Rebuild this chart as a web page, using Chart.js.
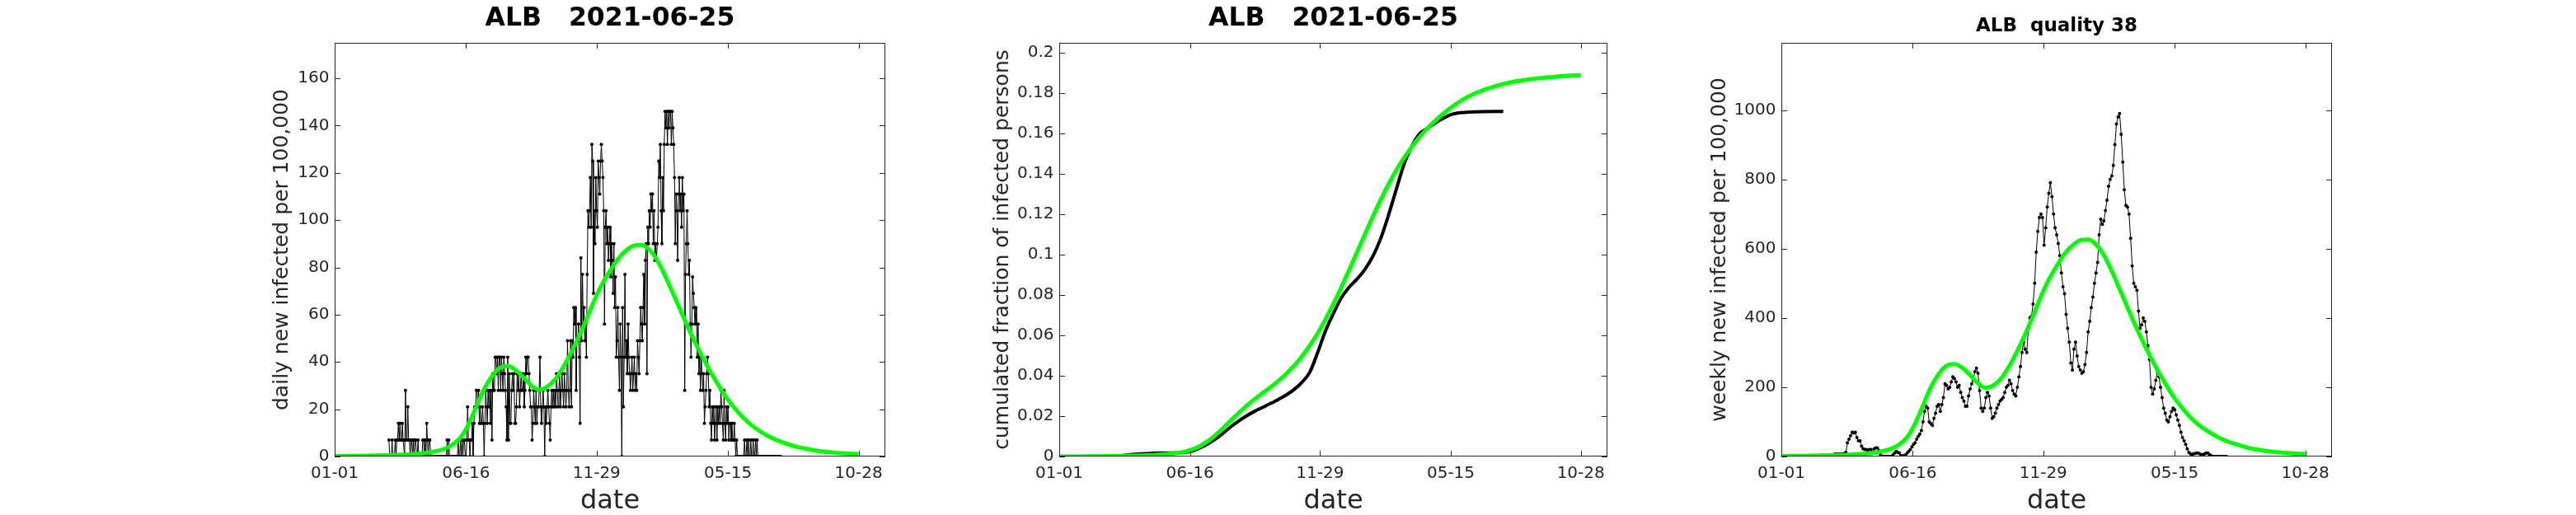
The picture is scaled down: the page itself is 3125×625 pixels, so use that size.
<!DOCTYPE html>
<html><head><meta charset="utf-8">
<script src="https://cdn.jsdelivr.net/npm/chart.js@4.4.1/dist/chart.umd.min.js"></script>
<style>
html,body{margin:0;padding:0;background:#fff;width:3125px;height:625px;overflow:hidden;}
.p{position:absolute;top:0;height:625px;}
canvas{display:block;}
</style></head><body>
<div class="p" style="left:296px;width:888px"><canvas id="c1" width="888" height="625"></canvas></div>
<div class="p" style="left:1175px;width:885px"><canvas id="c2" width="885" height="625"></canvas></div>
<div class="p" style="left:2051px;width:888px"><canvas id="c3" width="888" height="625"></canvas></div>
<script>
// ---------- data ----------
const xTickDays   = [0, 167, 333, 500, 666];
const xTickLabels = ['01-01', '06-16', '11-29', '05-15', '10-28'];

const y1Ticks = [0, 20, 40, 60, 80, 100, 120, 140, 160];
const y1Labels = ['0','20','40','60','80','100','120','140','160'];
const y2Ticks = [0, 0.02, 0.04, 0.06, 0.08, 0.1, 0.12, 0.14, 0.16, 0.18, 0.2];
const y2Labels = ['0','0.02','0.04','0.06','0.08','0.1','0.12','0.14','0.16','0.18','0.2'];
const y3Ticks = [0, 200, 400, 600, 800, 1000];
const y3Labels = ['0','200','400','600','800','1000'];

// daily new infected per 100,000 (one value per day, first day = dailyStartDay)
const dailyStartDay = 69;
const dailyVals = [
 7,0,0,0,7,0,0,0,7,0,
 7,7,14,7,14,7,7,14,7,7,
 0,28,7,7,21,7,7,0,7,7,
 0,7,0,7,7,0,0,7,0,0,
 0,0,0,7,7,0,7,0,14,7,
 0,7,7,0,0,0,0,0,0,0,
 0,0,0,0,0,0,0,0,0,0,
 0,0,0,0,7,0,7,0,0,0,
 0,0,0,0,0,0,0,0,7,0,
 0,7,0,7,0,7,7,0,0,7,
 21,7,7,0,7,7,14,0,14,21,
 21,28,28,21,28,14,21,14,14,21,
 14,0,14,28,21,14,28,21,28,14,
 28,7,35,28,28,42,42,35,42,28,
 42,42,28,42,35,28,42,35,28,21,
 7,42,7,35,14,14,28,35,28,35,
 14,14,21,35,28,35,21,28,35,28,
 28,35,21,28,42,35,42,42,35,28,
 21,21,7,14,28,21,14,28,14,21,
 21,28,42,21,14,21,28,21,0,21,
 14,21,28,21,14,7,21,28,21,28,
 21,28,21,35,28,21,28,35,21,28,
 35,28,21,35,28,21,28,49,28,21,
 28,49,21,49,42,63,56,63,28,49,
 49,56,42,14,84,49,77,56,63,49,
 56,42,77,104,97,104,118,97,132,125,
 69,104,90,118,104,97,125,118,111,125,
 132,125,118,104,56,97,104,90,97,83,
 90,97,76,90,83,69,90,63,76,42,
 49,63,42,28,56,42,0,63,21,42,
 77,42,49,35,56,42,35,28,35,42,
 28,35,42,28,35,28,49,42,35,49,
 63,56,49,63,77,56,83,90,35,97,
 90,104,97,111,104,111,90,104,83,90,
 83,90,97,125,118,132,104,90,118,104,
 132,146,139,146,132,146,139,146,146,132,
 146,139,132,118,90,111,104,83,111,118,
 104,111,97,118,104,111,28,77,90,104,
 90,77,83,56,42,56,76,69,63,56,
 63,56,42,56,35,42,28,42,35,28,
 35,14,21,28,35,42,35,21,28,14,
 7,21,14,21,7,14,21,7,21,14,
 21,14,28,21,14,7,28,14,7,21,
 14,21,7,14,14,7,14,7,7,14,
 7,0,7,0,0,0,0,0,0,0,
 0,0,7,0,0,7,0,7,0,0,
 7,0,0,7,0,0,7,0,7,0,
 0,0,0,0,0,0,0,0,0,0,
 0,0,0,0,0,0,0,0,0,0,
 0,0,0,0,0,0,0,0,0
];

// weekly new infected per 100,000 (every second day, first day = weeklyStartDay)
const weeklyStartDay = 68;
const weeklyStep = 2;
const weeklyVals = [
 7,7,7,7,8,8,9,12,40,50,
 60,70,68,70,55,45,45,30,22,20,
 20,18,20,20,10,22,25,25,18,5,
 0,0,0,0,0,0,0,5,10,15,
 12,10,3,0,3,5,10,15,20,28,
 35,40,50,58,65,75,100,130,145,140,
 100,95,90,110,125,145,150,130,150,170,
 210,205,195,200,215,230,225,215,200,205,
 185,170,160,145,145,175,195,210,220,245,
 255,240,190,140,130,140,170,185,175,140,
 110,115,125,140,150,160,165,170,185,200,
 205,220,210,190,180,175,200,230,260,300,
 330,310,300,370,400,405,440,500,590,650,
 690,700,690,610,660,720,760,790,750,700,
 660,640,615,580,530,490,470,410,370,330,
 270,250,310,330,290,260,250,240,245,265,
 300,360,390,430,460,500,530,560,640,685,
 670,680,710,740,780,800,810,840,900,960,
 980,990,930,850,770,725,720,700,630,550,
 500,490,480,420,370,380,400,390,360,320,
 280,200,180,195,220,245,230,200,170,140,
 125,105,100,115,130,140,135,120,105,90,
 70,55,45,35,22,12,8,6,8,9,
 10,10,8,5,5,8,10,10,6,3,
 0,0,0,0,0,0,0,0,0,0
];

// cumulated fraction (black), read at these days
const cumDays = [69,80,90,100,110,120,130,140,150,160,170,180,190,200,210,220,230,240,250,260,270,280,290,300,310,320,330,340,350,360,370,380,390,400,410,420,430,440,450,460,470,480,490,500,510,520,530,540,567];
const cumVals = [0,0.0004,0.0009,0.0012,0.0014,0.0016,0.0017,0.0017,0.0018,0.002,0.0027,0.0043,0.0063,0.0088,0.0118,0.015,0.0178,0.0203,0.0225,0.0244,0.0263,0.0283,0.0305,0.0332,0.0368,0.0418,0.0515,0.0622,0.0708,0.0785,0.0838,0.0878,0.0925,0.0988,0.1075,0.119,0.1318,0.1445,0.1535,0.1598,0.1625,0.1652,0.1675,0.1693,0.1702,0.1705,0.1707,0.1708,0.1709];

// model fit (green), read at these days
const fitDays = [0,10,20,30,40,50,60,70,80,90,100,110,120,130,140,150,160,170,180,190,200,210,220,230,240,250,260,270,280,290,300,310,320,330,340,350,360,370,380,390,400,410,420,430,440,450,460,470,480,490,500,510,520,530,540,550,560,570,580,590,600,610,620,630,640,650,660,666];
const fitDaily = [0.2,0.2,0.25,0.3,0.35,0.4,0.5,0.6,0.7,0.8,1.0,1.3,1.7,2.3,3.3,5.0,8.0,13.5,21,28.5,34,37.5,38.3,36.5,33.5,30,28.2,29.5,32.5,37.5,43.5,50.5,58,66,73,78.5,83.5,87,89.2,89.5,87.5,83,76.5,69,61.5,54,47,40.5,34.5,29,24,19.8,16.2,13.2,10.8,8.8,7.2,5.9,4.8,3.9,3.2,2.6,2.1,1.8,1.5,1.3,1.1,1.0];
const fitCum = [0,0,0,0.0001,0.0001,0.0001,0.0002,0.0002,0.0003,0.0004,0.0005,0.0006,0.0008,0.001,0.0013,0.0017,0.0024,0.0035,0.0052,0.0077,0.0108,0.0144,0.0182,0.0219,0.0254,0.0286,0.0315,0.0344,0.0375,0.041,0.045,0.0497,0.055,0.061,0.068,0.0756,0.0837,0.0922,0.101,0.1098,0.1185,0.1268,0.1345,0.1415,0.1478,0.1533,0.1582,0.1625,0.1663,0.1697,0.1728,0.1755,0.1778,0.1797,0.1813,0.1826,0.1838,0.1848,0.1856,0.1862,0.1868,0.1873,0.1877,0.188,0.1884,0.1886,0.1888,0.1889];
const fitWeekly = [1.4,1.5,1.8,2,2.5,3,3.5,4,5,6,7,9,12,16,23,35,56,95,147,200,238,262,267,256,235,211,198,206,227,262,305,353,406,462,511,550,585,609,624,626,612,581,535,483,430,378,329,284,242,203,168,139,113,92,76,62,50,41,34,27,22,18,15,12.5,10.5,9,7.8,7.3];

const titleMain = 'ALB   2021-06-25';
const titleQuality = 'ALB  quality 38';

// ---------- rendering ----------
Chart.defaults.font.family = "'DejaVu Sans', sans-serif";
Chart.defaults.color = '#262626';
const GREEN = '#00ff00';
const AXC = '#262626';

const boxTicks = {
  id: 'boxTicks',
  afterDatasetsDraw(chart) {
    const {ctx, chartArea: a, scales: {x, y}} = chart;
    ctx.save();
    ctx.strokeStyle = AXC; ctx.lineWidth = 1;
    ctx.beginPath();
    x.ticks.forEach(t => {
      const px = Math.round(x.getPixelForValue(t.value)) + 0.5;
      ctx.moveTo(px, a.bottom); ctx.lineTo(px, a.bottom - 7);
      ctx.moveTo(px, a.top); ctx.lineTo(px, a.top + 7);
    });
    y.ticks.forEach(t => {
      const py = Math.round(y.getPixelForValue(t.value)) + 0.5;
      ctx.moveTo(a.left, py); ctx.lineTo(a.left + 7, py);
      ctx.moveTo(a.right, py); ctx.lineTo(a.right - 7, py);
    });
    ctx.stroke();
    ctx.strokeRect(Math.round(a.left) + 0.5, Math.round(a.top) + 0.5, Math.round(a.width) - 1, Math.round(a.height) - 1);
    ctx.restore();
  }
};

function makeChart(id, cfg) {
  new Chart(document.getElementById(id), {
    type: 'line',
    data: { datasets: cfg.datasets },
    options: {
      responsive: false, animation: false, devicePixelRatio: 1,
      layout: { padding: { left: 0, right: 110, top: 0, bottom: 0 } },
      plugins: {
        legend: { display: false }, tooltip: { enabled: false },
        title: { display: true, fullSize: false, text: cfg.title, color: '#000',
          font: { size: cfg.titleSize, weight: 'bold', lineHeight: 1 },
          padding: { top: cfg.titlePadTop, bottom: cfg.titlePadBottom } }
      },
      scales: {
        x: {
          type: 'linear', min: 0, max: 700,
          grid: { display: false, drawTicks: false }, border: { display: false },
          afterBuildTicks: s => { s.ticks = xTickDays.map(v => ({ value: v })); },
          ticks: { autoSkip: false, maxRotation: 0, padding: 9, font: { size: 20 }, color: AXC,
            callback: (v, i) => xTickLabels[i] },
          title: { display: true, text: 'date', color: AXC, font: { size: 32, lineHeight: 1 }, padding: { top: 0, bottom: 0 } },
          afterFit: s => { s.height = 71; }
        },
        y: {
          type: 'linear', min: 0, max: cfg.yMax,
          grid: { display: false, drawTicks: false }, border: { display: false },
          afterBuildTicks: s => { s.ticks = cfg.yTicks.map(v => ({ value: v })); },
          ticks: { autoSkip: false, padding: 6.5, font: { size: 20 }, color: AXC,
            callback: (v, i) => cfg.yLabels[i] },
          title: { display: true, text: cfg.yTitle, color: AXC, font: { size: 25, lineHeight: 1 }, padding: { top: cfg.yTitlePad, bottom: 0 } },
          afterFit: s => { s.width = 110; }
        }
      }
    },
    plugins: [boxTicks]
  });
}

const pts = (days, vals) => vals.map((v, i) => ({ x: days[i], y: v }));
const seq = (start, step, vals) => vals.map((v, i) => ({ x: start + i * step, y: v }));

const greenSet = d => ({ data: d, borderColor: GREEN, borderWidth: 5, pointRadius: 0, cubicInterpolationMode: 'monotone', order: 0 });
const dotSet = d => ({ data: d, borderColor: '#000', borderWidth: 1, pointRadius: 2, pointBorderWidth: 0, pointBackgroundColor: '#000', tension: 0, order: 1 });

makeChart('c1', {
  title: titleMain, titleSize: 31.5, titlePadTop: 7, titlePadBottom: 13.5,
  yMax: 175, yTicks: y1Ticks, yLabels: y1Labels, yTitle: 'daily new infected per 100,000', yTitlePad: 34,
  datasets: [greenSet(pts(fitDays, fitDaily)), dotSet(seq(dailyStartDay, 1, dailyVals))]
});
makeChart('c2', {
  title: titleMain, titleSize: 31.5, titlePadTop: 7, titlePadBottom: 13.5,
  yMax: 0.2049, yTicks: y2Ticks, yLabels: y2Labels, yTitle: 'cumulated fraction of infected persons', yTitlePad: 28.5,
  datasets: [greenSet(pts(fitDays, fitCum)),
    { data: pts(cumDays, cumVals), borderColor: '#000', borderWidth: 4, pointRadius: 0, cubicInterpolationMode: 'monotone', order: 1 }]
});
makeChart('c3', {
  title: titleQuality, titleSize: 23, titlePadTop: 20.5, titlePadBottom: 8.5,
  yMax: 1194, yTicks: y3Ticks, yLabels: y3Labels, yTitle: 'weekly new infected per 100,000', yTitlePad: 22.5,
  datasets: [greenSet(pts(fitDays, fitWeekly)), dotSet(seq(weeklyStartDay, weeklyStep, weeklyVals))]
});
</script>
</body></html>
